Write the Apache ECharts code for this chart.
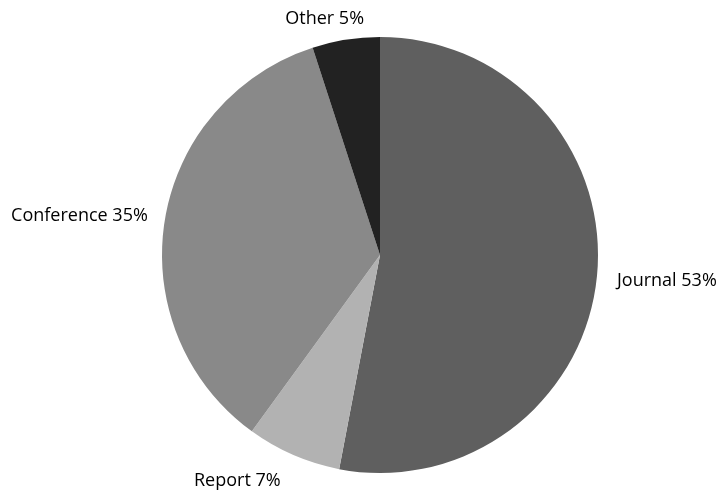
<!DOCTYPE html>
<html>
<head>
<meta charset="utf-8">
<script src="https://cdn.jsdelivr.net/npm/echarts@6/dist/echarts.min.js"></script>
<style>
  html, body { margin: 0; padding: 0; background: #fff; }
  #chart { width: 728px; height: 502px; }
</style>
</head>
<body>
<div id="chart"></div>
<script>
// publication types
const categories = ['Journal', 'Report', 'Conference', 'Other']
const shares = [53, 7, 35, 5]
const sliceColors = ['#5f5f5f', '#b2b2b2', '#898989', '#222222']

// small nudges so labels sit where the original placed them
const labelNudge = [[3, 4], [-3, 15], [0, -3], [25, -9]]

const chart = echarts.init(document.getElementById('chart'))

chart.setOption({
  animation: false,
  series: [
    {
      type: 'pie',
      center: [380, 255],
      radius: [0, 218],
      startAngle: 90,
      clockwise: true,
      color: sliceColors,
      label: {
        show: true,
        position: 'outside',
        formatter: '{b} {c}%',
        fontFamily: 'Open Sans',
        fontSize: 18,
        color: '#000'
      },
      labelLine: { show: false, length: 12, length2: 0 },
      labelLayout: params => ({
        dx: labelNudge[params.dataIndex][0],
        dy: labelNudge[params.dataIndex][1]
      }),
      itemStyle: { borderWidth: 0 },
      data: categories.map((name, i) => ({ name: name, value: shares[i] }))
    }
  ]
})
</script>
</body>
</html>
